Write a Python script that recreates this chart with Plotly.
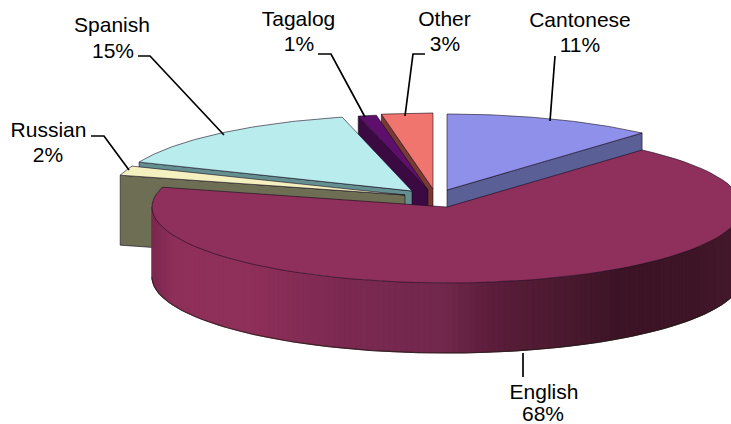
import numpy as np
import plotly.graph_objects as go

categories = ["Cantonese", "English", "Russian", "Spanish", "Tagalog", "Other"]
values = [11.5, 67.7, 2.0, 15.0, 1.0, 2.8]
shown_pct = ["11%", "68%", "2%", "15%", "1%", "3%"]

top_colors = ["#8f90ea", "#8f2f5b", "#f5f0bf", "#b9ecec", "#5e0f6b", "#f0756f"]
side_colors = ["#5a5f96", "#6b2344", "#6e6e55", "#648f90", "#3c0a42", "#7a3a30"]
apex_x = [447, 447, 405, 412, 428, 433]
apex_y = [190, 207, 195, 191, 190, 189]
label_x = [580, 544, 48.5, 112, 298.5, 444.5]
pct_x = [580, 543, 48, 113, 299, 445]
label_y1 = [22, 394, 132, 27, 21, 21]
label_y2 = [47, 416, 157, 53, 46, 46]
leader_x = [[555, 550], [523, 523], [91, 104, 129], [138, 150, 224], [318, 331, 365], [425, 413, 405]]
leader_y = [[56, 121], [353, 377], [136, 136, 170], [56, 56, 135], [54, 54, 117], [54, 54, 116]]

RX, RY, DEPTH = 295, 76, 70
grad_x = [152, 175, 250, 340, 440, 500, 560, 620, 700, 731]
grad_r = [125, 143, 143, 125, 114, 90, 76, 60, 63, 69]
grad_g = [43, 48, 48, 42, 40, 29, 26, 20, 22, 26]
grad_b = [82, 90, 90, 82, 76, 58, 48, 38, 40, 44]
EDGE = "rgba(20,10,30,0.75)"

fractions = np.array(values) / sum(values) * 2 * np.pi
ends = np.cumsum(fractions)
starts = ends - fractions


def rim(i, a0, a1, dy=0.0, n=80):
    t = np.linspace(a0, a1, n)
    return apex_x[i] + RX * np.sin(t), apex_y[i] - RY * np.cos(t) + dy


fig = go.Figure()


def poly(x, y, fill, line=EDGE, width=0.8):
    fig.add_trace(go.Scatter(x=x, y=y, mode="lines", fill="toself", fillcolor=fill,
                             line=dict(color=line, width=width), hoverinfo="skip", showlegend=False))


def slice_top(i):
    x, y = rim(i, starts[i], ends[i])
    poly(np.r_[apex_x[i], x, apex_x[i]], np.r_[apex_y[i], y, apex_y[i]], top_colors[i])


def face(i, angle):
    x, y = rim(i, angle, angle, n=1)
    xs = [apex_x[i], x[0], x[0], apex_x[i], apex_x[i]]
    yy = [apex_y[i], y[0], y[0] + DEPTH, apex_y[i] + DEPTH, apex_y[i]]
    poly(xs, yy, side_colors[i])


# back slices first; the English slice sits in front of all of them
face(5, starts[5]); slice_top(5)
face(4, starts[4]); slice_top(4)
face(0, ends[0]); slice_top(0)
face(3, starts[3]); slice_top(3)
face(2, starts[2]); slice_top(2)

# outer wall of the English slice, shaded strip by strip
t = np.linspace(np.pi * 0.5, np.pi * 1.5, 161)
xs = apex_x[1] + RX * np.sin(t)
ys = apex_y[1] - RY * np.cos(t)
for k in range(len(t) - 1):
    j = min(k + 2, len(t) - 1)
    xm = 0.5 * (xs[k] + xs[k + 1])
    c = "rgb(%d,%d,%d)" % (np.interp(xm, grad_x, grad_r), np.interp(xm, grad_x, grad_g), np.interp(xm, grad_x, grad_b))
    px = [xs[k], xs[j], xs[j], xs[k], xs[k]]
    py = [ys[k], ys[j], ys[j] + DEPTH, ys[k] + DEPTH, ys[k]]
    fig.add_trace(go.Scatter(x=px, y=py, mode="lines", fill="toself", fillcolor=c,
                             line=dict(color=c, width=0.5), hoverinfo="skip", showlegend=False))
fig.add_trace(go.Scatter(x=xs, y=ys + DEPTH, mode="lines", line=dict(color="rgba(30,30,20,0.7)", width=1.2),
                         hoverinfo="skip", showlegend=False))
slice_top(1)

for i in range(len(categories)):
    fig.add_trace(go.Scatter(x=leader_x[i], y=leader_y[i], mode="lines", line=dict(color="black", width=1.7),
                             hoverinfo="skip", showlegend=False))
label_font = dict(family="Liberation Sans", size=21, color="black")
fig.add_trace(go.Scatter(x=label_x, y=label_y1, text=categories, mode="text", textposition="middle center",
                         textfont=label_font, hoverinfo="skip", showlegend=False))
fig.add_trace(go.Scatter(x=pct_x, y=label_y2, text=shown_pct, mode="text", textposition="middle center",
                         textfont=label_font, hoverinfo="skip", showlegend=False))

fig.update_xaxes(range=[0, 731], visible=False)
fig.update_yaxes(range=[424, 0], visible=False)
fig.update_layout(width=731, height=424, margin=dict(l=0, r=0, t=0, b=0),
                  plot_bgcolor="white", paper_bgcolor="white", showlegend=False)
fig.write_html("out.html", config={"displayModeBar": False},
               post_script="document.body.style.margin='0';document.body.style.overflow='hidden';")
